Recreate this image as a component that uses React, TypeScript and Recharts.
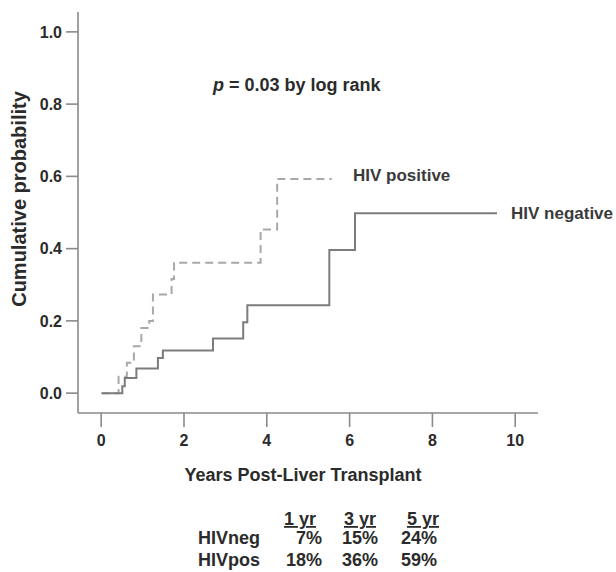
import { LineChart, Line, XAxis, YAxis } from 'recharts';

// step points (years, cumulative probability)
const hivNegYears = [0.01, 0.51, 0.57, 0.85, 1.37, 1.49, 2.7, 3.43, 3.53, 5.51, 6.13, 9.56];
const hivNegProb = [0, 0.019, 0.042, 0.068, 0.097, 0.118, 0.151, 0.196, 0.243, 0.396, 0.498, 0.498];

const hivPosYears = [0.01, 0.42, 0.62, 0.79, 0.97, 1.16, 1.25, 1.7, 1.76, 3.85, 4.25, 5.57];
const hivPosProb = [0, 0.045, 0.084, 0.13, 0.18, 0.2, 0.273, 0.316, 0.361, 0.453, 0.593, 0.593];

const xTicks = [0, 2, 4, 6, 8, 10];
const yTicks = [0, 0.2, 0.4, 0.6, 0.8, 1.0];

const tableHeaders = ['1 yr', '3 yr', '5 yr'];
const tableRows = ['HIVneg', 'HIVpos'];
const tableValues = [
  ['7%', '15%', '24%'],
  ['18%', '36%', '59%'],
];

const negData = hivNegYears.map((x, i) => ({ x, y: hivNegProb[i] }));
const posData = hivPosYears.map((x, i) => ({ x, y: hivPosProb[i] }));

const FONT = 'Arial, "Liberation Sans", Helvetica, sans-serif';
const TEXT = '#2b2b2b';
const AXIS = '#8a8a8a';

export default function App() {
  const colRight = [322, 378, 437];
  const headerCenter = [300, 360, 423];
  const rowY = [544, 566];

  return (
    <div style={{ position: 'absolute', left: 0, top: 0, width: 616, height: 572, background: '#fff' }}>
      <LineChart
        width={616}
        height={572}
        margin={{ top: 12, right: 78, left: 18, bottom: 129 }}
        style={{ fontFamily: FONT }}
      >
        <XAxis
          type="number"
          dataKey="x"
          domain={[-0.56, 10.55]}
          allowDataOverflow
          ticks={xTicks}
          height={30}
          stroke={AXIS}
          strokeWidth={1.6}
          tickSize={14}
          tickMargin={8}
          tick={{ fill: TEXT, fontSize: 16, fontWeight: 700 }}
        />
        <YAxis
          type="number"
          dataKey="y"
          domain={[-0.055, 1.055]}
          allowDataOverflow
          ticks={yTicks}
          width={60}
          stroke={AXIS}
          strokeWidth={1.6}
          tickSize={12}
          tickMargin={4}
          tickFormatter={(v) => Number(v).toFixed(1)}
          tick={{ fill: TEXT, fontSize: 16, fontWeight: 700 }}
        />
        <Line
          data={posData}
          dataKey="y"
          type="stepAfter"
          stroke="#a8a8a8"
          strokeWidth={2}
          strokeDasharray="8 5"
          dot={false}
          isAnimationActive={false}
        />
        <Line
          data={negData}
          dataKey="y"
          type="stepAfter"
          stroke="#7c7c7c"
          strokeWidth={2}
          dot={false}
          isAnimationActive={false}
        />
      </LineChart>
      <svg
        width={616}
        height={572}
        style={{ position: 'absolute', left: 0, top: 0, fontFamily: FONT, pointerEvents: 'none' }}
      >
        <text
          transform="translate(26,199) rotate(-90)"
          textAnchor="middle"
          fontSize={20}
          fontWeight={700}
          fill={TEXT}
        >
          Cumulative probability
        </text>
        <text x={303} y={481} textAnchor="middle" fontSize={18} fontWeight={700} fill={TEXT}>
          Years Post-Liver Transplant
        </text>
        <text x={213} y={91} fontSize={18} fontWeight={700} fill={TEXT}>
          <tspan fontStyle="italic">p</tspan> = 0.03 by log rank
        </text>
        <text x={353} y={181} fontSize={17} fontWeight={700} fill="#3a3a3a">
          HIV positive
        </text>
        <text x={511} y={219} fontSize={17} fontWeight={700} fill="#3a3a3a">
          HIV negative
        </text>
        {tableHeaders.map((h, i) => (
          <text
            key={h}
            x={headerCenter[i]}
            y={525}
            textAnchor="middle"
            fontSize={18}
            fontWeight={700}
            fill={TEXT}
            textDecoration="underline"
          >
            {h}
          </text>
        ))}
        {tableRows.map((r, ri) => (
          <g key={r}>
            <text x={198} y={rowY[ri]} fontSize={18} fontWeight={700} fill={TEXT}>
              {r}
            </text>
            {tableValues[ri].map((v, ci) => (
              <text
                key={ci}
                x={colRight[ci]}
                y={rowY[ri]}
                textAnchor="end"
                fontSize={18}
                fontWeight={700}
                fill={TEXT}
              >
                {v}
              </text>
            ))}
          </g>
        ))}
      </svg>
    </div>
  );
}
